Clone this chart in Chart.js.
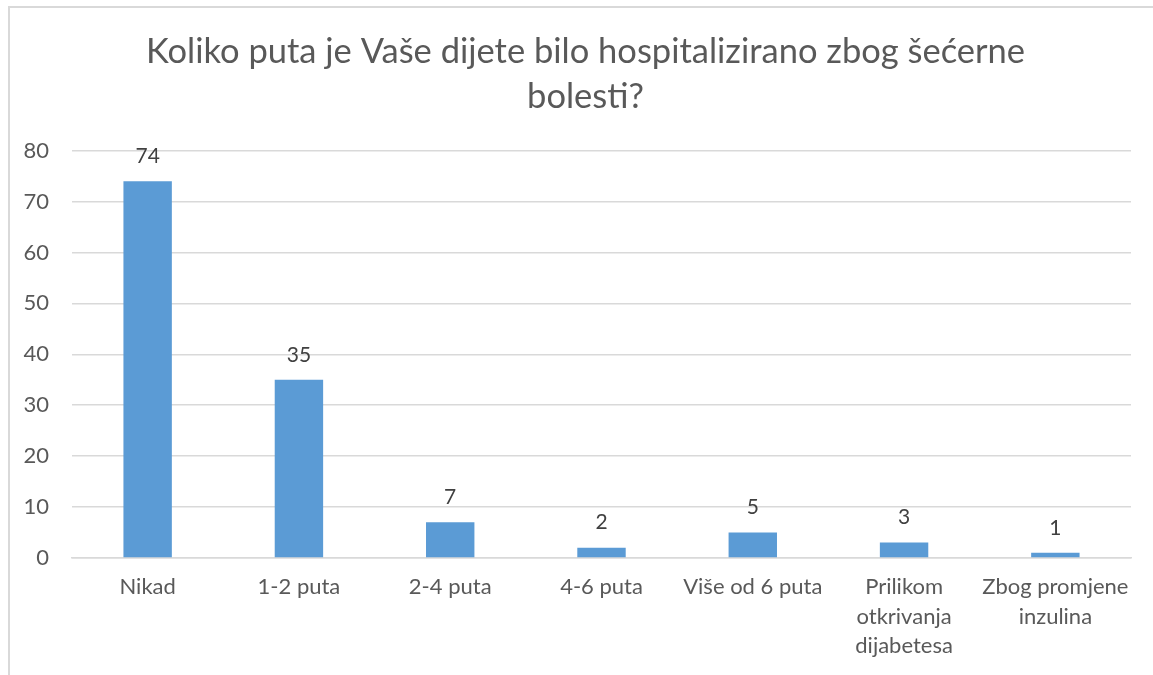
<!DOCTYPE html>
<html>
<head>
<meta charset="utf-8">
<script src="https://cdn.jsdelivr.net/npm/chart.js@4"></script>
<style>
  html, body { margin: 0; padding: 0; background: #fff; }
  #frame {
    position: absolute; left: 8px; top: 6px; width: 1145px; height: 669px;
    border-top: 2px solid #d9d9d9; border-left: 2px solid #d9d9d9;
  }
  #chart { display: block; }
</style>
</head>
<body>
<div id="frame"><canvas id="chart" width="1143" height="667"></canvas></div>
<script>
  // data
  const titleLines = ["Koliko puta je Vaše dijete bilo hospitalizirano zbog šećerne", "bolesti?"];
  const categories = [
    "Nikad",
    "1-2 puta",
    "2-4 puta",
    "4-6 puta",
    "Više od 6 puta",
    ["Prilikom", "otkrivanja", "dijabetesa"],
    ["Zbog promjene", "inzulina"]
  ];
  const counts = [74, 35, 7, 2, 5, 3, 1];
  const yMax = 80;
  const yStep = 10;

  const fontFamily = "Lato, 'Open Sans', sans-serif";

  // draws the number above every bar
  const valueLabels = {
    id: "valueLabels",
    afterDatasetsDraw(chart) {
      const ctx = chart.ctx;
      const meta = chart.getDatasetMeta(0);
      ctx.save();
      ctx.fillStyle = "#404040";
      ctx.font = "21px " + fontFamily;
      ctx.textAlign = "center";
      ctx.textBaseline = "middle";
      meta.data.forEach((bar, i) => {
        ctx.fillText(String(counts[i]), bar.x, bar.y - 25);
      });
      ctx.restore();
    }
  };

  // the reference title sits a bit right of the canvas centre
  const titleShift = {
    id: "titleShift",
    afterLayout(chart) {
      const t = chart.titleBlock;
      if (!t) return;
      t.left += 15;
      t.right += 15;
    }
  };

  new Chart(document.getElementById("chart"), {
    type: "bar",
    data: {
      labels: categories,
      datasets: [{
        data: counts,
        backgroundColor: "#5B9BD5",
        borderWidth: 0,
        categoryPercentage: 1,
        barPercentage: 0.32
      }]
    },
    options: {
      responsive: false,
      animation: false,
      layout: { padding: { left: 0, right: 22, top: 0, bottom: 0 } },
      plugins: {
        legend: { display: false },
        tooltip: { enabled: false },
        title: {
          display: true,
          text: titleLines,
          color: "#595959",
          font: { family: fontFamily, size: 34.5, weight: "normal", lineHeight: 1.3 },
          padding: { top: 21.5, bottom: 31.5 }
        }
      },
      scales: {
        y: {
          min: 0,
          max: yMax,
          ticks: {
            stepSize: yStep,
            color: "#595959",
            font: { family: fontFamily, size: 22 },
            padding: 23
          },
          grid: { color: "#d9d9d9", lineWidth: 1.5, drawTicks: false },
          border: { display: false },
          afterFit: (s) => { s.width = 62; }
        },
        x: {
          ticks: {
            color: "#595959",
            font: { family: fontFamily, size: 22, lineHeight: 1.32 },
            padding: 15,
            maxRotation: 0,
            autoSkip: false
          },
          grid: { display: false, drawTicks: false },
          border: { display: true, color: "#d9d9d9", width: 1.5 }
        }
      }
    },
    plugins: [valueLabels, titleShift]
  });
</script>
</body>
</html>
